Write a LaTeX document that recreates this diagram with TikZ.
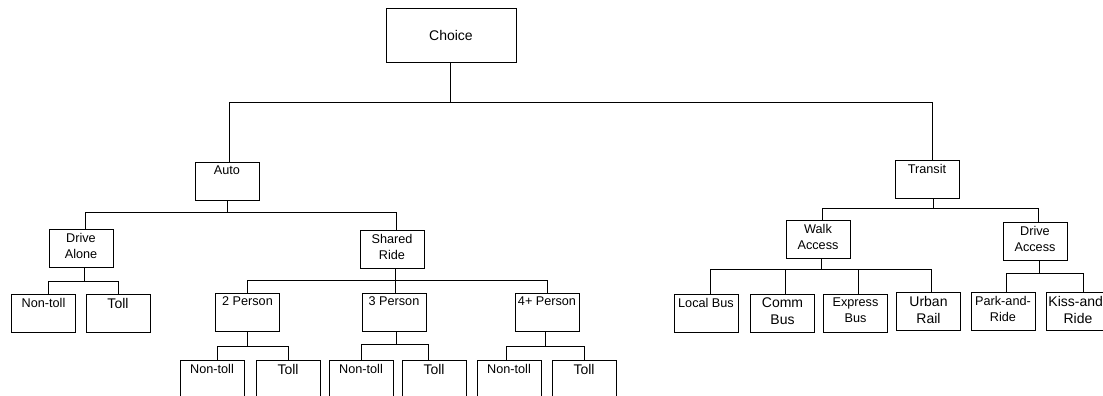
\documentclass[tikz,border=0pt]{standalone}
\usepackage{fontspec}
\setmainfont{Liberation Sans}
\begin{document}
\begin{tikzpicture}[x=0.75pt,y=-0.75pt,
  box/.style={draw, line width=0.6pt, minimum width=48pt, minimum height=28.5pt, inner sep=0pt},
  lbl/.style={anchor=north, inner sep=0pt, align=center, yshift=-3pt, font=\fontsize{9.5}{12}\selectfont},
  big/.style={font=\fontsize{10.5}{13}\selectfont},
  conn/.style={line width=0.6pt}]
\useasboundingbox (0,0) rectangle (1103,396);
\clip (0,0) rectangle (1103,396);
% boxes
\node[box, minimum width=97.5pt, minimum height=40.5pt, font=\fontsize{10.5}{12}\selectfont] (choice) at (451,35) {Choice};
\newcommand\mybox[4]{%
  \node[box] (#1) at (#2) {};
  \node[lbl,#4] (#1-t) at (#1.north) {#3};}
\mybox{auto}{227,181}{Auto}{}
\mybox{transit}{927,179}{Transit}{}
\mybox{drivealone}{81,248}{Drive\\Alone}{}
\mybox{shared}{392,249}{Shared\\Ride}{}
\mybox{nt1}{43.5,313}{Non-toll}{}
\mybox{t1}{118,313}{Toll}{big}
\mybox{p2}{247.5,312}{2 Person}{}
\mybox{p3}{394,312}{3 Person}{}
\mybox{p4}{547,312}{4+ Person}{}
\mybox{nt2}{212,379}{Non-toll}{}
\mybox{t2}{288,379}{Toll}{big}
\mybox{nt3}{361,379}{Non-toll}{}
\mybox{t3}{434,379}{Toll}{big}
\mybox{nt4}{509,379}{Non-toll}{}
\mybox{t4}{584,379}{Toll}{big}
\mybox{walk}{818,239}{Walk\\Access}{}
\mybox{driveacc}{1035,241.5}{Drive\\Access}{}
\mybox{local}{706,313}{Local Bus}{}
\mybox{comm}{782.5,313}{Comm\\Bus}{big}
\mybox{express}{855.5,313}{Express\\Bus}{}
\mybox{urban}{928.5,311}{Urban\\Rail}{big}
\mybox{park}{1003,311}{Park-and-\\Ride}{}
\mybox{kiss}{1078,311}{Kiss-and-\\Ride}{big}
% bar levels
\coordinate (y1) at (0,102);
\coordinate (y2) at (0,212);
\coordinate (y3) at (0,281);
\coordinate (y4) at (0,280);
\coordinate (y5) at (0,346);
\coordinate (y6) at (0,344);
\coordinate (y7) at (0,346);
\coordinate (y8) at (0,208);
\coordinate (y9) at (0,269);
\coordinate (y10) at (0,273);
% attach points
\coordinate (choiceB) at ([xshift=-0.75pt]choice.south);
\coordinate (autoT) at ([xshift=1.5pt]auto.north);
\coordinate (transitT) at ([xshift=3.75pt]transit.north);
\coordinate (autoB) at (auto.south);
\coordinate (drivealoneT) at ([xshift=3pt]drivealone.north);
\coordinate (sharedT) at ([xshift=3pt]shared.north);
\coordinate (drivealoneB) at ([xshift=2.25pt]drivealone.south);
\coordinate (nt1T) at ([xshift=3.4pt]nt1.north);
\coordinate (t1T) at (t1.north);
\coordinate (sharedB) at ([xshift=2.25pt]shared.south);
\coordinate (p2T) at (p2.north);
\coordinate (p3T) at ([xshift=0.75pt]p3.north);
\coordinate (p4T) at (p4.north);
\coordinate (p2B) at (p2.south);
\coordinate (nt2T) at ([xshift=3.75pt]nt2.north);
\coordinate (t2T) at (t2.north);
\coordinate (p3B) at ([xshift=1.5pt]p3.south);
\coordinate (nt3T) at (nt3.north);
\coordinate (t3T) at ([xshift=-4.5pt]t3.north);
\coordinate (p4B) at ([xshift=-1.5pt]p4.south);
\coordinate (nt4T) at ([xshift=-2.25pt]nt4.north);
\coordinate (t4T) at (t4.north);
\coordinate (transitB) at ([xshift=4.5pt]transit.south);
\coordinate (walkT) at ([xshift=3pt]walk.north);
\coordinate (driveaccT) at ([xshift=2.25pt]driveacc.north);
\coordinate (walkB) at ([xshift=2.25pt]walk.south);
\coordinate (localT) at ([xshift=3pt]local.north);
\coordinate (commT) at ([xshift=1.9pt]comm.north);
\coordinate (expressT) at ([xshift=1.9pt]express.north);
\coordinate (urbanT) at ([xshift=1.9pt]urban.north);
\coordinate (driveaccB) at ([xshift=3pt]driveacc.south);
\coordinate (parkT) at ([xshift=2.25pt]park.north);
\coordinate (kissT) at ([xshift=3.75pt]kiss.north);
% connectors
\draw[conn] (choiceB) -- (choiceB |- y1);
\draw[conn] (autoT) -- (autoT |- y1) -- (transitT |- y1) -- (transitT);
\draw[conn] (autoB) -- (autoB |- y2);
\draw[conn] (drivealoneT) -- (drivealoneT |- y2) -- (sharedT |- y2) -- (sharedT);
\draw[conn] (drivealoneB) -- (drivealoneB |- y3);
\draw[conn] (nt1T) -- (nt1T |- y3) -- (t1T |- y3) -- (t1T);
\draw[conn] (sharedB) -- (sharedB |- y4);
\draw[conn] (p2T) -- (p2T |- y4) -- (p4T |- y4) -- (p4T);
\draw[conn] (p3T) -- (p3T |- y4);
\draw[conn] (p2B) -- (p2B |- y5);
\draw[conn] (nt2T) -- (nt2T |- y5) -- (t2T |- y5) -- (t2T);
\draw[conn] (p3B) -- (p3B |- y6);
\draw[conn] (nt3T) -- (nt3T |- y6) -- (t3T |- y6) -- (t3T);
\draw[conn] (p4B) -- (p4B |- y7);
\draw[conn] (nt4T) -- (nt4T |- y7) -- (t4T |- y7) -- (t4T);
\draw[conn] (transitB) -- (transitB |- y8);
\draw[conn] (walkT) -- (walkT |- y8) -- (driveaccT |- y8) -- (driveaccT);
\draw[conn] (walkB) -- (walkB |- y9);
\draw[conn] (localT) -- (localT |- y9) -- (urbanT |- y9) -- (urbanT);
\draw[conn] (commT) -- (commT |- y9);
\draw[conn] (expressT) -- (expressT |- y9);
\draw[conn] (driveaccB) -- (driveaccB |- y10);
\draw[conn] (parkT) -- (parkT |- y10) -- (kissT |- y10) -- (kissT);
\end{tikzpicture}
\end{document}
